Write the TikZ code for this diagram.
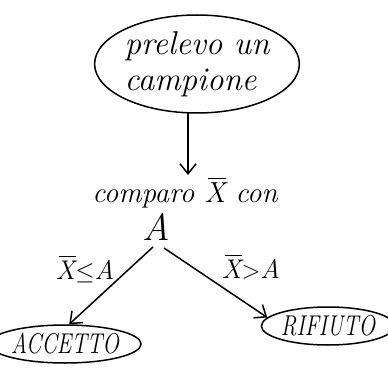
\documentclass[tikz,border=0pt]{standalone}
\usepackage{fontspec}
\usetikzlibrary{shapes.geometric,arrows.meta}
\newcommand\myxbar{\makebox[0pt][l]{\hspace{0.12em}\raisebox{0.82em}{\rule{0.62em}{0.05em}}}X}
\begin{document}
\begin{tikzpicture}[x=1pt,y=-1pt,
  bubble/.style={ellipse,draw,line width=1.5pt,inner sep=0pt},
  conn/.style={line width=1.5pt,-{Straight Barb[length=10pt,width=16pt,line width=1.5pt]}},
  lab/.style={inner sep=0pt}]
\useasboundingbox (0,0) rectangle (388,374);
\node[bubble,minimum width=190pt,minimum height=98pt,
  font=\itshape\fontsize{33}{36}\selectfont,align=left] (top) at (197,64) {prelevo un\\campione};
\node[lab,font=\itshape\fontsize{29}{32}\selectfont] (cmp) at (185,193) {comparo \myxbar{} con};
\node[lab,font=\itshape\fontsize{38}{40}\selectfont] (A) at (156,227) {A};
\node[bubble,minimum width=120pt,minimum height=38pt,
  font=\itshape\fontsize{22}{26}\selectfont] (acc) at (65,344) {\scalebox{1}[1.3]{ACCETTO}};
\node[bubble,minimum width=121pt,minimum height=38pt,
  font=\itshape\fontsize{22}{26}\selectfont] (rif) at (328,326) {\scalebox{1}[1.3]{RIFIUTO}};
\node[lab,font=\itshape\fontsize{27}{30}\selectfont] (le) at (85,269) {\myxbar$\leq$A};
\node[lab,font=\itshape\fontsize{27}{30}\selectfont] (gt) at (251,267) {\myxbar$>$A};
\coordinate (aL) at (153,247);
\coordinate (aR) at (164,248);
\coordinate (t1) at (188,113);
\coordinate (t2) at (188,175);
\draw[conn] (t1) -- (t2);
\draw[conn] (aL) -- (acc.78);
\draw[conn] (aR) -- (rif.172);
\end{tikzpicture}
\end{document}
